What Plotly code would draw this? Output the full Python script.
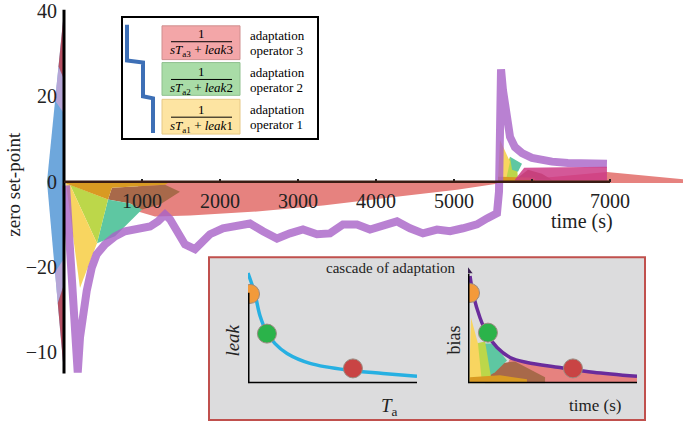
import plotly.graph_objects as go

W, H = 683, 424
SERIF = "Liberation Serif"

# ---------------- main chart data (time s, zero set-point) ----------------
x_tickvals = [1000, 2000, 3000, 4000, 5000, 6000, 7000]
x_ticktext = ["1000", "2000", "3000", "4000", "5000", "6000", "7000"]
y_tickvals = [40, 20, 0, -20, -40]
y_ticktext = ["40", "20", "0", "\u221220", "\u221210"]

purple_t = [26, 77, 115, 154, 176, 205, 244, 291, 355, 419, 526, 654, 782, 949, 1103,
            1205, 1295, 1359, 1423, 1551, 1679, 1744, 1872, 2038, 2256, 2385, 2551,
            2731, 2897, 3064, 3243, 3410, 3577, 3756, 3923, 4090, 4269, 4436, 4602,
            4782, 4949, 5115, 5295, 5423, 5551, 5577, 5590, 5603, 5628, 5654, 5680,
            5718, 5782, 5872, 6000, 6128, 6256, 6461, 6679, 6961]
purple_v = [-0.9, -14.0, -25.6, -37.2, -44.7, -36.5, -30.2, -25.6, -20.2, -17.0, -14.7,
            -12.8, -11.6, -11.2, -10.5, -9.3, -7.7, -8.8, -10.9, -14.7, -15.8, -14.4,
            -12.3, -10.9, -10.5, -9.8, -11.6, -13.3, -12.1, -11.2, -12.3, -12.1, -10.0,
            -10.0, -11.2, -10.5, -9.3, -10.9, -12.1, -11.2, -11.6, -10.9, -10.0, -8.6,
            -7.4, -2.3, 7.0, 26.3, 21.4, 17.4, 13.5, 10.5, 8.1, 6.7, 5.6, 5.0, 4.7, 4.4,
            4.2, 4.2]

# left "diamond" of the y axis
diamond_t = [0, -218, 0]
diamond_v = [40.0, 0, -44.9]
tip_top_t = [0, -70, 0]
tip_top_v = [40.0, 27.0, 24.0]
mid_top_t = [-70, -115, 0, 0]
mid_top_v = [27.0, 19.0, 16.0, 24.0]
tip_bot_t = [0, -80, 0]
tip_bot_v = [-44.9, -28.4, -24.0]
mid_bot_t = [-80, -115, 0, 0]
mid_bot_v = [-28.4, -21.2, -18.0, -24.0]

# adaptation-operator areas, first step
red1_t = [974, 5551, 5551, 5038, 4179, 3320, 2474, 1615, 1167, 949, 900]
red1_v = [-0.3, -0.2, -0.47, -1.86, -3.72, -5.58, -6.98, -7.91, -8.14, -6.98, -3.0]
brown1_t = [615, 1295, 1487, 1231, 1000, 846, 564]
brown1_v = [-1.40, -0.70, -2.33, -5.35, -6.51, -5.12, -4.19]
teal1_t = [564, 846, 1000, 654, 423]
teal1_v = [-4.19, -5.12, -6.51, -12.8, -14.4]
lime1_t = [77, 564, 423]
lime1_v = [-0.7, -4.19, -14.4]
yellow1_t = [26, 77, 423, 205]
yellow1_v = [-0.47, -0.7, -14.4, -24.9]
orange1_t = [0, 1359, 1295, 615, 564, 77, 0]
orange1_v = [0, 0, -0.7, -1.4, -4.19, -0.7, -0.23]

# second step
red2_t = [5600, 6961, 7936, 7936, 5600]
red2_v = [0, 2.3, 0.6, -0.3, -0.3]
brown2_t = [5782, 5949, 6128, 6256]
brown2_v = [0.47, 2.79, 1.86, 0.47]
lime2_t = [5590, 5718, 5808, 5821]
lime2_v = [0.47, 5.82, 3.49, 0.47]
yellow2_t = [5564, 5590, 5718, 5667]
yellow2_v = [0.47, 9.77, 4.65, 0.47]
teal2_t = [5718, 5872, 5821, 5744]
teal2_v = [5.82, 4.19, 2.33, 2.79]
orange2_t = [5564, 6038, 6038, 5564]
orange2_v = [1.16, 0.93, 0, 0]
magenta2_t = [5782, 5900, 6961, 6961, 5782]
magenta2_v = [0.5, 3.3, 3.5, 0.3, 0.3]

# ---------------- inset schematic data (normalised units 0..10) ----------------
leak_u = [0.0, 0.41, 0.71, 1.12, 1.6, 2.31, 3.67, 6.04, 7.99, 10.0]
leak_w = [9.25, 7.5, 5.67, 4.25, 3.33, 2.5, 1.67, 1.08, 0.83, 0.58]
leak_dot_u = [0.12, 1.12, 6.21]
leak_dot_w = [7.5, 4.17, 1.25]
bias_u = [0.12, 0.30, 0.71, 1.12, 1.72, 2.49, 3.49, 5.44, 7.40, 10.0]
bias_w = [9.0, 7.5, 5.5, 4.17, 3.0, 2.17, 1.75, 1.33, 0.92, 0.58]
bias_dot_u = [0.12, 1.18, 6.21]
bias_dot_w = [7.58, 4.25, 1.25]
dot_colors = ["#f39a3a", "#2bb34a", "#c94444"]
ib_red_u = [1.89, 2.49, 3.49, 5.44, 7.40, 10.0, 10.0, 1.89]
ib_red_w = [0.25, 2.08, 1.75, 1.33, 0.92, 0.58, 0, 0]
ib_brown_u = [1.01, 1.89, 2.78, 4.56, 4.56, 1.01]
ib_brown_w = [0.25, 1.67, 1.83, 0.5, 0, 0]
ib_teal_u = [0.71, 1.48, 2.31, 1.6, 1.01]
ib_teal_w = [3.33, 3.33, 1.92, 0.92, 0.42]
ib_lime_u = [0.24, 0.47, 1.01, 1.42]
ib_lime_w = [0, 3.33, 3.5, 0]
ib_yellow_u = [0.06, 0.18, 0.59, 0.83]
ib_yellow_w = [0, 5.5, 3.33, 0]
ib_orange_u = [0.12, 0.12, 1.89, 3.49, 3.49]
ib_orange_w = [0, 0.5, 0.67, 0.33, 0]

C_RED = "#e6827f"
C_BROWN = "#a8694a"
C_TEAL = "#5ec7a2"
C_LIME = "#bcd74a"
C_YELLOW = "#f8d560"
C_ORANGE = "#d99a22"
C_MAGENTA = "#cc3b86"
C_BLUE = "#6ea7dc"
C_PURPLE = "#a862c8"


def X(px):
    return px / W


def Y(py):
    return 1 - py / H


fig = go.Figure()


def poly(t, v, color, xa="x", ya="y", opacity=1.0):
    fig.add_trace(go.Scatter(x=t + [t[0]], y=v + [v[0]], mode="lines", fill="toself",
                             fillcolor=color, line=dict(width=0, color=color),
                             opacity=opacity, hoverinfo="skip", showlegend=False,
                             xaxis=xa, yaxis=ya))


# main fills
poly(diamond_t, diamond_v, C_BLUE)
poly(mid_top_t, mid_top_v, "#c8a6d6", opacity=0.8)
poly(tip_top_t, tip_top_v, "#c2414e", opacity=0.85)
poly(mid_bot_t, mid_bot_v, "#c8a6d6", opacity=0.8)
poly(tip_bot_t, tip_bot_v, "#c2414e", opacity=0.85)
poly(red1_t, red1_v, C_RED)
poly(brown1_t, brown1_v, C_BROWN)
poly(teal1_t, teal1_v, C_TEAL)
poly(lime1_t, lime1_v, C_LIME)
poly(yellow1_t, yellow1_v, C_YELLOW)
poly(orange1_t, orange1_v, C_ORANGE)
poly(red2_t, red2_v, C_RED)
poly(brown2_t, brown2_v, C_BROWN)
poly(lime2_t, lime2_v, C_LIME)
poly(yellow2_t, yellow2_v, C_YELLOW)
poly(teal2_t, teal2_v, C_TEAL)
poly(orange2_t, orange2_v, C_ORANGE)

fig.add_trace(go.Scatter(x=purple_t, y=purple_v, mode="lines",
                         line=dict(color=C_PURPLE, width=8), opacity=0.8,
                         hoverinfo="skip", showlegend=False))
poly(magenta2_t, magenta2_v, C_MAGENTA, opacity=0.85)

# inset fills & curves, right panel
for u, w, c in [(ib_red_u, ib_red_w, C_RED), (ib_brown_u, ib_brown_w, C_BROWN),
                (ib_teal_u, ib_teal_w, C_TEAL), (ib_lime_u, ib_lime_w, C_LIME),
                (ib_yellow_u, ib_yellow_w, C_YELLOW), (ib_orange_u, ib_orange_w, C_ORANGE)]:
    poly(u, w, c, xa="x4", ya="y4")

fig.add_trace(go.Scatter(x=leak_u, y=leak_w, mode="lines", line=dict(color="#27b0e2", width=3.5, shape="spline"),
                         hoverinfo="skip", showlegend=False, xaxis="x3", yaxis="y3"))
fig.add_trace(go.Scatter(x=leak_dot_u, y=leak_dot_w, mode="markers",
                         marker=dict(size=19, color=dot_colors, line=dict(color="#9a8a80", width=1)),
                         hoverinfo="skip", showlegend=False, xaxis="x3", yaxis="y3"))
fig.add_trace(go.Scatter(x=bias_u, y=bias_w, mode="lines", line=dict(color="#6a2c9c", width=3.5, shape="spline"),
                         hoverinfo="skip", showlegend=False, xaxis="x4", yaxis="y4"))
fig.add_trace(go.Scatter(x=bias_dot_u, y=bias_dot_w, mode="markers",
                         marker=dict(size=19, color=dot_colors, line=dict(color="#9a8a80", width=1)),
                         hoverinfo="skip", showlegend=False, xaxis="x4", yaxis="y4"))
fig.add_trace(go.Scatter(x=[0], y=[9.4], mode="markers",
                         marker=dict(symbol="triangle-up", size=8, color="#3a2050"),
                         hoverinfo="skip", showlegend=False, xaxis="x4", yaxis="y4"))

# ---------------- shapes ----------------
shapes = []
shapes.append(dict(type="rect", xref="paper", yref="paper", x0=X(122), x1=X(318), y0=Y(137), y1=Y(14),
                   line=dict(color="black", width=2), fillcolor="white", layer="below"))
for (y0, y1, fc, lc) in [(23, 57, "#f3a6a8", "#cf8e8e"), (60, 93, "#a9dca7", "#8fc08e"),
                         (97, 132, "#fde4a2", "#e6c886")]:
    shapes.append(dict(type="rect", xref="paper", yref="paper", x0=X(162), x1=X(240), y0=Y(y1), y1=Y(y0),
                       line=dict(color=lc, width=1), fillcolor=fc, layer="below"))
for yy in [39, 77, 115]:
    shapes.append(dict(type="line", xref="paper", yref="paper", x0=X(171), x1=X(232), y0=Y(yy), y1=Y(yy),
                       line=dict(color="black", width=1)))
stair = [(127, 22), (127, 58), (143, 60), (143, 94), (153, 96), (153, 131)]
path = "M " + " L ".join(f"{X(a):.5f},{Y(b):.5f}" for a, b in stair)
shapes.append(dict(type="path", xref="paper", yref="paper", path=path,
                   line=dict(color="#3d6fb6", width=4)))
shapes.append(dict(type="rect", xref="paper", yref="paper", x0=X(209), x1=X(645), y0=Y(420), y1=Y(256),
                   line=dict(color="#c0504d", width=2), fillcolor="#dcdcdd", layer="below"))
shapes.append(dict(type="line", xref="x3", yref="y3", x0=0, x1=0, y0=0, y1=7.6, line=dict(color="black", width=3)))
shapes.append(dict(type="line", xref="x3", yref="y3", x0=0, x1=10, y0=0, y1=0, line=dict(color="black", width=3)))
shapes.append(dict(type="line", xref="x4", yref="y4", x0=0, x1=0, y0=0, y1=9.2, line=dict(color="black", width=3)))
shapes.append(dict(type="line", xref="x4", yref="y4", x0=0, x1=10, y0=0, y1=0, line=dict(color="black", width=3)))
shapes.append(dict(type="line", xref="x", yref="y", x0=0, x1=0, y0=40.3, y1=-44.9,
                   line=dict(color="black", width=3)))
shapes.append(dict(type="line", xref="x", yref="y", x0=0, x1=7000, y0=0, y1=0,
                   line=dict(color="#3a1c14", width=2.5)))

# ---------------- annotations ----------------
ann = []
fr = dict(family=SERIF, size=13, color="black")
for (yn, yd, k) in [(31, 48, 3), (69, 86, 2), (107, 124, 1)]:
    ann.append(dict(x=X(201), y=Y(yn), text="1", font=fr))
    ann.append(dict(x=X(201), y=Y(yd), text=f"<i>sT</i><sub>a{k}</sub> + <i>leak</i>{k}", font=fr))
for (ya, yb, k) in [(33, 48, 3), (70, 85, 2), (107, 122, 1)]:
    ann.append(dict(x=X(248), y=Y(ya), text="adaptation", font=fr, xanchor="left"))
    ann.append(dict(x=X(248), y=Y(yb), text=f"operator {k}", font=fr, xanchor="left"))
ann.append(dict(x=X(14), y=Y(183), text="zero set-point", textangle=-90,
                font=dict(family=SERIF, size=19, color="#222")))
ann.append(dict(x=X(582), y=Y(220), text="time (s)", font=dict(family=SERIF, size=20, color="#222")))
ann.append(dict(x=X(391), y=Y(267), text="cascade of adaptation", font=dict(family=SERIF, size=15, color="#222")))
ann.append(dict(x=X(233), y=Y(340), text="<i>leak</i>", textangle=-90, font=dict(family=SERIF, size=19, color="#222")))
ann.append(dict(x=X(389), y=Y(407), text="<i>T</i><sub>a</sub>", font=dict(family=SERIF, size=19, color="#222")))
ann.append(dict(x=X(454), y=Y(340), text="bias", textangle=-90, font=dict(family=SERIF, size=18, color="#222")))
ann.append(dict(x=X(595), y=Y(405), text="time (s)", font=dict(family=SERIF, size=17, color="#222")))
for a in ann:
    a.setdefault("xanchor", "center")
    a.update(xref="paper", yref="paper", showarrow=False, yanchor="middle")

xmin, xmax = -820.5, 7936
ymin, ymax = -56.75, 41.86

fig.update_layout(
    width=W, height=H, autosize=False,
    margin=dict(l=0, r=0, t=0, b=0),
    font=dict(family=SERIF),
    paper_bgcolor="white", plot_bgcolor="rgba(0,0,0,0)",
    showlegend=False, shapes=shapes, annotations=ann,
    xaxis=dict(range=[xmin, xmax], domain=[0, 1], anchor="free",
               position=(0 - ymin) / (ymax - ymin), side="bottom",
               tickvals=x_tickvals, ticktext=x_ticktext, ticks="inside", ticklen=3, tickwidth=2,
               tickcolor="#222", ticklabelstandoff=5, ticklabeloverflow="allow",
               tickfont=dict(family=SERIF, size=20, color="#222"),
               showgrid=False, zeroline=False, showline=False, fixedrange=True),
    yaxis=dict(range=[ymin, ymax], domain=[0, 1], anchor="free",
               position=(0 - xmin) / (xmax - xmin), side="left",
               tickvals=y_tickvals, ticktext=y_ticktext, ticks="", ticklabelstandoff=7,
               ticklabeloverflow="allow",
               tickfont=dict(family=SERIF, size=20, color="#222"),
               showgrid=False, zeroline=False, showline=False, fixedrange=True),
    xaxis3=dict(domain=[X(248), X(417)], range=[0, 10], visible=False, anchor="y3", fixedrange=True),
    yaxis3=dict(domain=[Y(383), Y(263)], range=[0, 10], visible=False, anchor="x3", fixedrange=True),
    xaxis4=dict(domain=[X(468), X(637)], range=[0, 10], visible=False, anchor="y4", fixedrange=True),
    yaxis4=dict(domain=[Y(383), Y(263)], range=[0, 10], visible=False, anchor="x4", fixedrange=True),
)

fig.write_html("out.html", config={"displayModeBar": False},
               post_script="document.body.style.margin='0px';document.body.style.overflow='hidden';")
